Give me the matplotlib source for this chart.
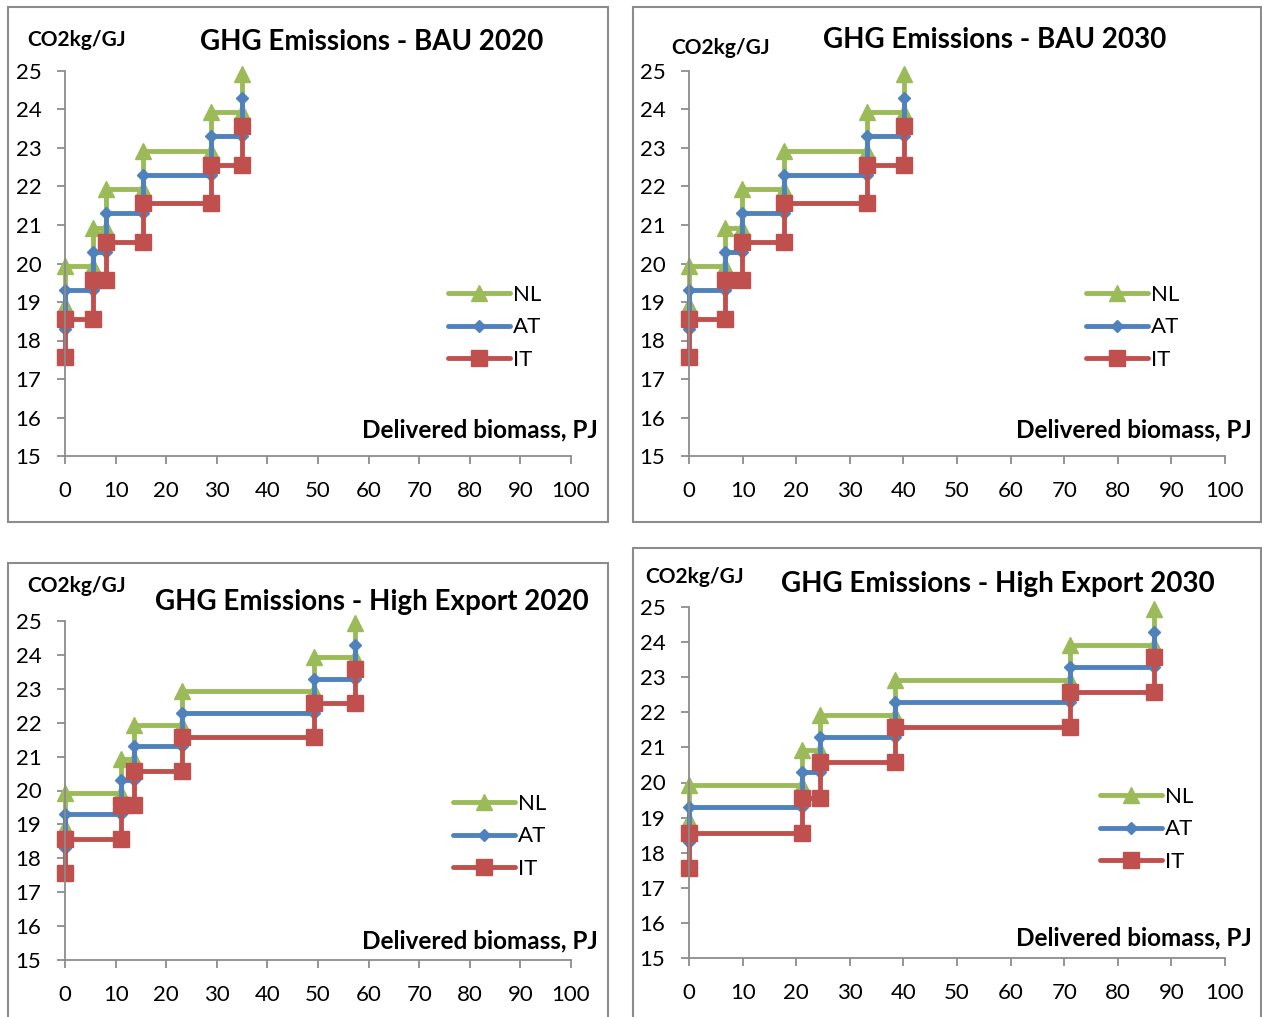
import numpy as np
import matplotlib
matplotlib.use('Agg')
import matplotlib.pyplot as plt
from matplotlib.patches import Rectangle

plt.rcParams['font.family'] = ['Lato', 'DejaVu Sans']

W, H = 1262, 1017

# step positions on the delivered biomass axis (PJ)
bau2020_x = [0, 5.5, 8.2, 15.5, 28.9, 34.9]
bau2030_x = [0, 6.7, 9.9, 17.8, 33.3, 40.1]
hex2020_x = [0, 11.0, 13.6, 23.2, 49.2, 57.3]
hex2030_x = [0, 21.1, 24.5, 38.4, 71.0, 86.8]

# emission levels per country (CO2kg/GJ)
nl_levels = [18.93, 19.93, 20.93, 21.93, 22.93, 23.93, 24.93]
at_levels = [18.3, 19.3, 20.3, 21.3, 22.3, 23.3, 24.3]
it_levels = [17.57, 18.57, 19.57, 20.57, 21.57, 22.57, 23.57]

countries = ['NL', 'AT', 'IT']
colors = ['#9BBB59', '#4F81BD', '#C0504D']
markers = ['^', 'D', 's']
msizes = [11, 6, 11]

titles = ['GHG Emissions - BAU 2020', 'GHG Emissions - BAU 2030',
          'GHG Emissions - High Export 2020', 'GHG Emissions - High Export 2030']

# panel layout in pixels
panels = [
    dict(xs=bau2020_x, box=(8, 7, 608, 522), ax=(65, 71, 571, 456), title=(372, 42),
         ylab=(27, 40), xlab=(598, 430), leg=(437, 274)),
    dict(xs=bau2030_x, box=(633, 7, 1261, 522), ax=(689, 71, 1225, 456), title=(995, 40),
         ylab=(671, 48), xlab=(1252, 430), leg=(1075, 274)),
    dict(xs=hex2020_x, box=(8, 563, 608, 1030), ax=(65, 621, 571, 960), title=(372, 602),
         ylab=(27, 586), xlab=(598, 941), leg=(442, 783)),
    dict(xs=hex2030_x, box=(633, 548, 1261, 1030), ax=(689, 607, 1225, 958), title=(998, 584),
         ylab=(645, 577), xlab=(1252, 938), leg=(1089, 776)),
]


def fx(px):
    return px / W


def fy(py):
    return 1 - py / H


fig = plt.figure(figsize=(W / 100, H / 100), dpi=100)

for p, title in zip(panels, titles):
    x0, y0, x1, y1 = p['box']
    fig.add_artist(Rectangle((fx(x0), fy(y1)), fx(x1 - x0), (y1 - y0) / H,
                             transform=fig.transFigure, fill=False,
                             edgecolor='#8C8C8C', linewidth=1.5))
    a0, b0, a1, b1 = p['ax']
    ax = fig.add_axes([fx(a0), fy(b1), fx(a1 - a0), (b1 - b0) / H])
    steps = np.array(p['xs'])
    px = np.repeat(steps, 2)
    for name, levels, c, m, ms in zip(countries, [nl_levels, at_levels, it_levels],
                                      colors, markers, msizes):
        lv = np.array(levels)
        py = np.empty(12)
        py[0::2] = lv[:-1]
        py[1::2] = lv[1:]
        ax.plot(px, py, color=c, lw=3.5, marker=m, ms=ms, mec=c, mfc=c,
                label=name, clip_on=False, solid_capstyle='round')
    ax.set_xlim(0, 100)
    ax.set_ylim(15, 25)
    ax.set_xticks(range(0, 101, 10))
    ax.set_yticks(range(15, 26))
    for s in ['top', 'right']:
        ax.spines[s].set_visible(False)
    for s in ['left', 'bottom']:
        ax.spines[s].set_color('#8C8C8C')
        ax.spines[s].set_linewidth(1.3)
    ax.tick_params(axis='both', colors='#8C8C8C', labelcolor='black', labelsize=16,
                   length=6, width=1.3)
    ax.tick_params(axis='x', pad=12)
    ax.tick_params(axis='y', pad=11)
    ax.patch.set_alpha(0)

    fig.text(fx(p['title'][0]), fy(p['title'][1]), title, ha='center', va='center',
             fontsize=20, fontweight='bold')
    fig.text(fx(p['ylab'][0]), fy(p['ylab'][1]), 'CO2kg/GJ', ha='left', va='center',
             fontsize=15, fontweight='bold')
    fig.text(fx(p['xlab'][0]), fy(p['xlab'][1]), 'Delivered biomass, PJ', ha='right',
             va='center', fontsize=17.5, fontweight='bold')
    lx, ly = p['leg']
    ax.legend(loc='upper left', bbox_to_anchor=(fx(lx), fy(ly)),
              bbox_transform=fig.transFigure, frameon=False, fontsize=16,
              handlelength=2.8, handletextpad=0.1, labelspacing=0.55, borderpad=0)

fig.savefig('out.png', dpi=100)
